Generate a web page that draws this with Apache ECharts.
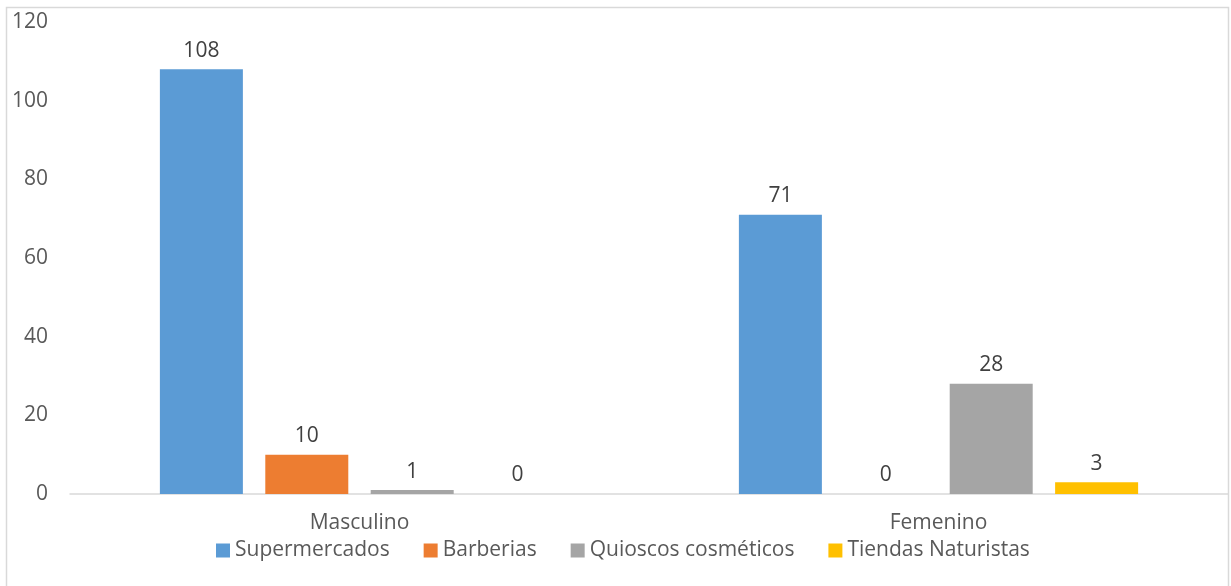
<!DOCTYPE html>
<html>
<head>
<meta charset="utf-8">
<title>Lugar de compra por género</title>
<script src="https://cdn.jsdelivr.net/npm/echarts@6/dist/echarts.min.js"></script>
<style>
  html, body { margin: 0; padding: 0; background: #ffffff; }
  #chart { width: 1231px; height: 586px; }
</style>
</head>
<body>
<div id="chart"></div>
<script>
// Categories on the x axis
const categories = ['Masculino', 'Femenino'];

// Values per store type
const supermercados = [108, 71];
const barberias = [10, 0];
const quioscos = [1, 28];
const naturistas = [0, 3];

const seriesNames = ['Supermercados', 'Barberias', 'Quioscos cosméticos', 'Tiendas Naturistas'];
const seriesValues = [supermercados, barberias, quioscos, naturistas];
const colors = ['#5b9bd5', '#ed7d31', '#a5a5a5', '#ffc000'];

const FONT = '"Open Sans", "Liberation Sans", sans-serif';
const FS = 21;

const chart = echarts.init(document.getElementById('chart'), null, { renderer: 'canvas' });

chart.setOption({
  animation: false,
  textStyle: { fontFamily: FONT },
  graphic: [{
    type: 'rect',
    shape: { x: 6.5, y: 7.5, width: 1222, height: 600 },
    style: { fill: 'none', stroke: '#d9d9d9', lineWidth: 1.5 },
    silent: true
  }],
  grid: { left: 70, right: 3, top: 22, bottom: 92, containLabel: false },
  legend: {
    data: seriesNames,
    bottom: 25,
    left: 216,
    padding: 0,
    itemWidth: 14,
    itemHeight: 14,
    itemGap: 34,
    icon: 'rect',
    textStyle: { fontFamily: FONT, fontSize: FS, color: '#595959' }
  },
  xAxis: {
    type: 'category',
    data: categories,
    axisLine: { show: true, lineStyle: { color: '#d9d9d9', width: 1.5 } },
    axisTick: { show: false },
    axisLabel: { fontFamily: FONT, fontSize: FS, color: '#595959', margin: 19 }
  },
  yAxis: {
    type: 'value',
    min: 0,
    max: 120,
    interval: 20,
    axisLine: { show: false },
    axisTick: { show: false },
    splitLine: { show: false },
    axisLabel: { fontFamily: FONT, fontSize: FS, color: '#595959', margin: 22 }
  },
  series: seriesNames.map((name, i) => ({
    name: name,
    type: 'bar',
    data: seriesValues[i],
    barWidth: 83,
    barGap: '27%',
    itemStyle: { color: colors[i] },
    label: {
      show: true,
      position: 'top',
      distance: 8,
      fontFamily: FONT,
      fontSize: FS,
      color: '#404040'
    }
  }))
});
</script>
</body>
</html>
